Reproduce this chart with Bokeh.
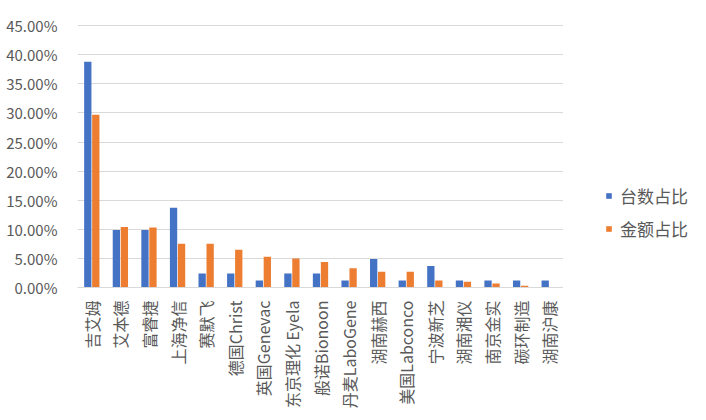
import math
from bokeh.plotting import figure
from bokeh.layouts import row
from bokeh.models import (ColumnDataSource, FactorRange, Range1d, FixedTicker,
                          NumeralTickFormatter, Legend, LegendItem)
from bokeh.transform import dodge
from bokeh.embed import file_html
from bokeh.resources import INLINE

categories = ["吉艾姆", "艾本德", "富睿捷", "上海净信", "赛默飞", "德国Christ",
              "英国Genevac", "东京理化 Eyela", "般诺Bionoon", "丹麦LaboGene",
              "湖南赫西", "美国Labconco", "宁波新芝", "湖南湘仪", "南京金实",
              "碳环制造", "湖南沪康"]
count_share = [0.388, 0.099, 0.099, 0.137, 0.024, 0.024, 0.012, 0.024, 0.024,
               0.012, 0.049, 0.012, 0.037, 0.012, 0.012, 0.012, 0.012]
amount_share = [0.297, 0.104, 0.103, 0.075, 0.075, 0.065, 0.053, 0.050, 0.044,
                0.033, 0.027, 0.027, 0.012, 0.010, 0.007, 0.003, 0.0]
series_names = ["台数占比", "金额占比"]
y_ticks = [0.0, 0.05, 0.10, 0.15, 0.20, 0.25, 0.30, 0.35, 0.40, 0.45]

BLUE = "#4472C4"
ORANGE = "#ED7D31"
TXT = "#595959"
GRID = "#D9D9D9"
CJK = "Noto Sans CJK SC"

src = ColumnDataSource(dict(cat=categories, a=count_share, b=amount_share))

p = figure(width=563, height=420, x_range=FactorRange(*categories),
           y_range=Range1d(0, 0.452), output_backend="svg", toolbar_location=None,
           min_border_left=77, min_border_right=0, min_border_top=24,
           min_border_bottom=133)
p.outline_line_color = None
p.background_fill_color = "white"

r1 = p.vbar(x=dodge("cat", -0.14, range=p.x_range), top="a", width=0.255,
            source=src, fill_color=BLUE, line_color=None)
r2 = p.vbar(x=dodge("cat", 0.14, range=p.x_range), top="b", width=0.255,
            source=src, fill_color=ORANGE, line_color=None)

p.xgrid.grid_line_color = None
p.ygrid.grid_line_color = GRID
p.ygrid.grid_line_width = 1

p.yaxis.ticker = FixedTicker(ticks=y_ticks)
p.yaxis.formatter = NumeralTickFormatter(format="0.00%")
p.yaxis.axis_line_color = None
p.yaxis.major_tick_line_color = None
p.yaxis.minor_tick_line_color = None
p.yaxis.major_label_standoff = 14
p.yaxis.major_label_text_font = CJK
p.yaxis.major_label_text_font_size = "15px"
p.yaxis.major_label_text_color = TXT

p.xaxis.axis_line_color = GRID
p.xaxis.major_tick_line_color = None
p.xaxis.minor_tick_line_color = None
p.xaxis.major_label_orientation = math.pi / 2
p.xaxis.major_label_standoff = 7
p.xaxis.major_label_text_font = CJK
p.xaxis.major_label_text_font_size = "16px"
p.xaxis.major_label_text_color = TXT

# legend panel: key renderers share the data but have zero width (draw nothing)
p2 = figure(width=143, height=420, output_backend="svg", toolbar_location=None,
            x_range=FactorRange(*categories), y_range=Range1d(1, 2),
            x_axis_type=None, y_axis_type=None, min_border=0)
p2.outline_line_color = None
p2.xgrid.grid_line_color = None
p2.ygrid.grid_line_color = None
k1 = p2.vbar(x="cat", top="a", width=0, source=src,
             fill_color=BLUE, line_color=None)
k2 = p2.vbar(x="cat", top="b", width=0, source=src,
             fill_color=ORANGE, line_color=None)

legend = Legend(items=[LegendItem(label=series_names[0], renderers=[k1]),
                       LegendItem(label=series_names[1], renderers=[k2])],
                location=(42, 46), glyph_width=7, glyph_height=7,
                label_standoff=8, spacing=8, padding=0, margin=0,
                label_text_font=CJK, label_text_font_size="17px",
                label_text_color=TXT, border_line_color=None,
                background_fill_alpha=0)
p2.add_layout(legend, "center")

layout = row(p, p2)
open("out.html", "w").write(file_html(layout, INLINE))
